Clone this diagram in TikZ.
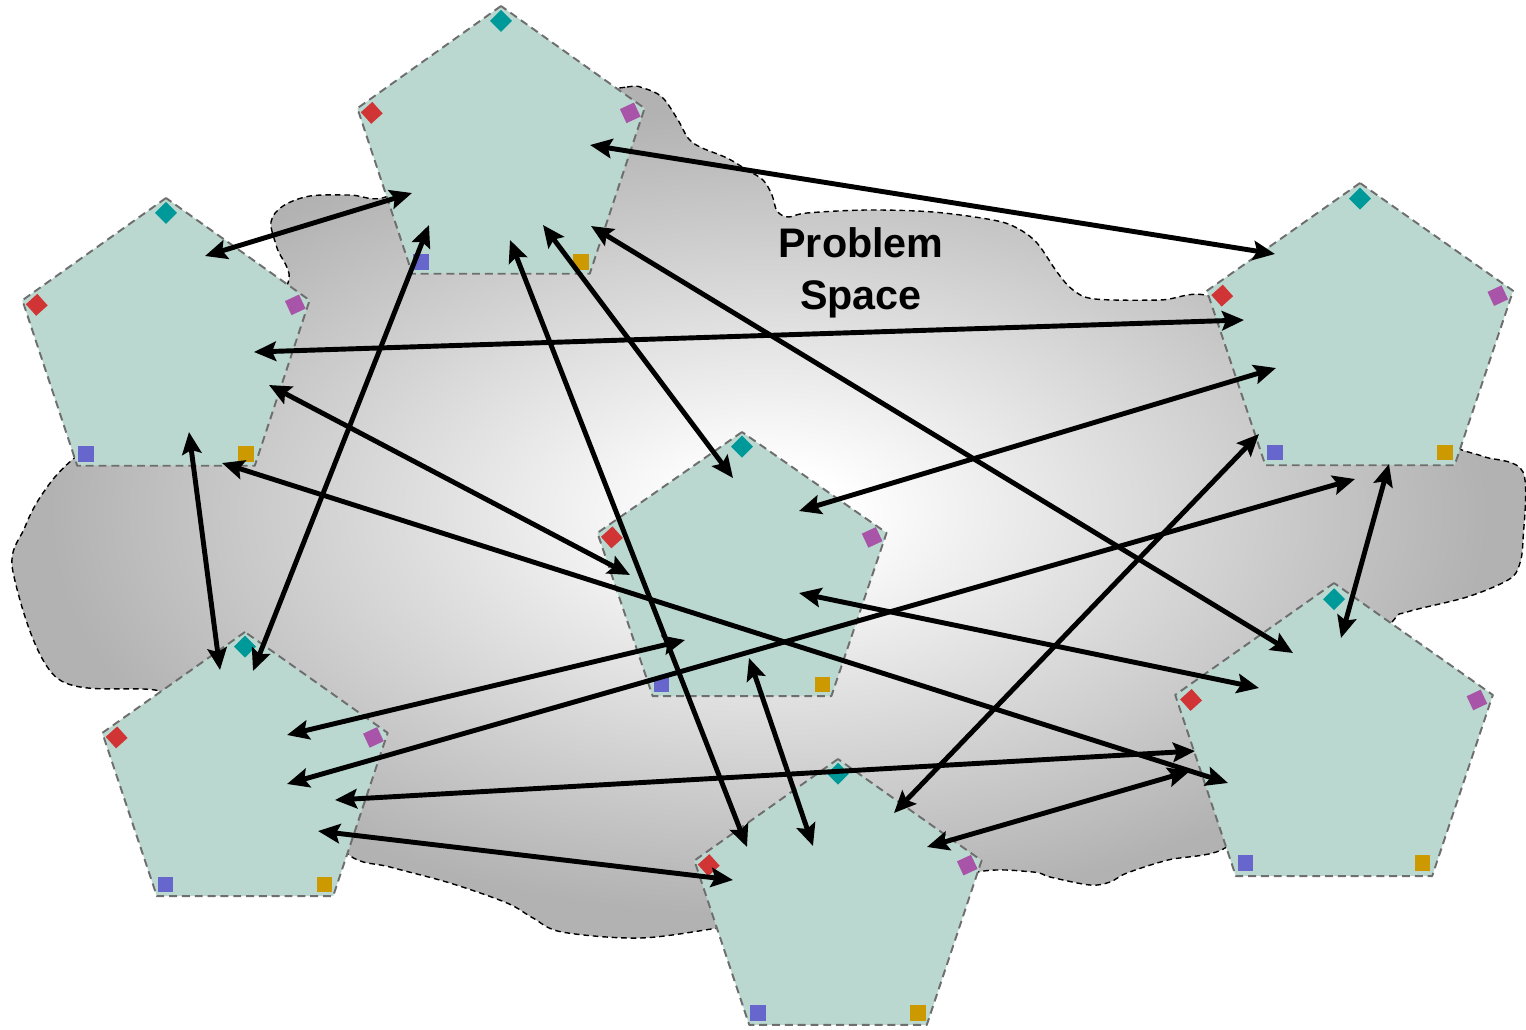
\documentclass[tikz,border=0pt]{standalone}
\usepackage{fontspec}
\newfontfamily\labelfont{Liberation Sans}
\usetikzlibrary{arrows.meta}

% soft radial fill for the problem-space cloud (path box edges sit at 25bp)
\pgfdeclareradialshading{blobshade}{\pgfpointorigin}{rgb(0bp)=(1,1,1); rgb(2.5bp)=(1,1,1); rgb(23.5bp)=(0.70,0.70,0.70); rgb(50bp)=(0.70,0.70,0.70)}

\definecolor{facetfill}{RGB}{186,216,207}
\definecolor{facetedge}{RGB}{110,110,110}
\definecolor{mteal}{RGB}{0,153,153}
\definecolor{mred}{RGB}{208,52,52}
\definecolor{mmagenta}{RGB}{168,84,168}
\definecolor{mblue}{RGB}{102,102,204}
\definecolor{morange}{RGB}{204,153,0}

\tikzset{
  blobline/.style={draw=black, line width=0.8pt, dash pattern=on 3.2pt off 2.2pt, shading=blobshade},
  facetline/.style={fill=facetfill, draw=facetedge, line width=1.1pt, dash pattern=on 4.5pt off 2.8pt, line join=round},
  vmark/.style={rectangle, inner sep=0pt, outer sep=0pt, minimum size=0.31cm},
  conn/.style={line width=2.8pt, {Stealth[length=12.5pt,width=11pt,inset=2.2pt]}-{Stealth[length=12.5pt,width=11pt,inset=2.2pt]}},
  % pentagon with a coloured marker near each corner; argument: x radius / y radius
  pics/facet/.style args={#1/#2}{code={
     \pgfmathsetmacro\mx{0.9*#1}
     \pgfmathsetmacro\my{0.9*#2}
     \coordinate (-c) at (0,0);
     \path[facetline] (-90:#1 and #2) -- (198:#1 and #2) -- (126:#1 and #2) -- (54:#1 and #2) -- (-18:#1 and #2) -- cycle;
     \node[vmark, fill=mteal, rotate=45] (-m1) at (-90:{\mx} and {\my}) {};
     \node[vmark, fill=mred, rotate=42] (-m2) at (198:{\mx} and {\my}) {};
     \node[vmark, fill=mblue] (-m3) at (126:{\mx} and {\my}) {};
     \node[vmark, fill=morange] (-m4) at (54:{\mx} and {\my}) {};
     \node[vmark, fill=mmagenta, rotate=25] (-m5) at (-18:{\mx} and {\my}) {};
  }}
}

\begin{document}
\begin{tikzpicture}[x=0.02cm, y=-0.02cm]
\useasboundingbox (0,0) rectangle (1526,1029);

% problem-space cloud
\shadedraw[blobline] plot[smooth cycle, tension=0.55] coordinates {
  (560,100) (627,87) (643,88) (662,97) (678,120) (688,138) (700,147) (727,158)
  (747,170) (763,180) (772,195) (777,211) (788,217) (807,213) (867,210) (933,212)
  (993,220) (1017,228) (1037,243) (1057,272) (1073,290) (1095,299) (1160,300) (1212,297)
  (1300,350) (1440,440) (1462,450) (1485,457) (1523,472) (1523,540) (1519,566)
  (1508,580) (1467,597) (1407,612) (1392,622) (1340,690) (1262,800) (1225,848)
  (1168,860) (1127,873) (1110,882) (1090,885) (1050,877) (1033,872) (978,872)
  (900,900) (780,918) (718,928) (640,938) (562,932) (533,918) (507,903) (450,883)
  (390,867) (349,855) (300,800) (220,720) (160,691) (57,678) (13,572) (25,527)
  (43,493) (72,460) (150,400) (240,330) (288,283) (277,248) (271,222) (283,206)
  (310,196) (350,195) (388,196) (450,150)
};

% pentagons
\pic (p1) at (501,154) {facet=151/148};
\pic (p2) at (166,346) {facet=151/148};
\pic (p3) at (1360,339) {facet=161/156};
\pic (p4) at (742,578) {facet=152/146};
\pic (p5) at (245,778) {facet=150/146};
\pic (p6) at (838,906) {facet=151/147};
\pic (p7) at (1334,745) {facet=167/162};

% label
\node[font=\labelfont\bfseries\fontsize{23.5}{29.5}\selectfont, align=center, inner sep=0pt] (title) at (861,273) {Problem\\Space};

% two-way links
\draw[conn] ([shift={(89,-9)}]p1-c) -- ([shift={(-85,-85)}]p3-c);
\draw[conn] ([shift={(39,-90)}]p2-c) -- ([shift={(-89,39)}]p1-c);
\draw[conn] ([shift={(88,6)}]p2-c) -- ([shift={(-116,-19)}]p3-c);
\draw[conn] ([shift={(103,39)}]p2-c) -- ([shift={(-112,-3)}]p4-c);
\draw[conn] ([shift={(56,117)}]p2-c) -- ([shift={(-106,38)}]p7-c);
\draw[conn] ([shift={(23,86)}]p2-c) -- ([shift={(-25,-108)}]p5-c);
\draw[conn] ([shift={(-72,71)}]p1-c) -- ([shift={(8,-107)}]p5-c);
\draw[conn] ([shift={(9,86)}]p1-c) -- ([shift={(-91,-59)}]p6-c);
\draw[conn] ([shift={(42,71)}]p1-c) -- ([shift={(-9,-100)}]p4-c);
\draw[conn] ([shift={(90,72)}]p1-c) -- ([shift={(-41,-92)}]p7-c);
\draw[conn] ([shift={(-84,29)}]p3-c) -- ([shift={(57,-67)}]p4-c);
\draw[conn] ([shift={(-101,95)}]p3-c) -- ([shift={(56,-93)}]p6-c);
\draw[conn] ([shift={(-5,140)}]p3-c) -- ([shift={(42,6)}]p5-c);
\draw[conn] ([shift={(29,125)}]p3-c) -- ([shift={(7,-107)}]p7-c);
\draw[conn] ([shift={(57,15)}]p4-c) -- ([shift={(-75,-57)}]p7-c);
\draw[conn] ([shift={(-57,62)}]p4-c) -- ([shift={(42,-43)}]p5-c);
\draw[conn] ([shift={(7,80)}]p4-c) -- ([shift={(-25,-60)}]p6-c);
\draw[conn] ([shift={(90,22)}]p5-c) -- ([shift={(-139,6)}]p7-c);
\draw[conn] ([shift={(73,53)}]p5-c) -- ([shift={(-105,-26)}]p6-c);
\draw[conn] ([shift={(89,-59)}]p6-c) -- ([shift={(-144,26)}]p7-c);
\end{tikzpicture}
\end{document}
